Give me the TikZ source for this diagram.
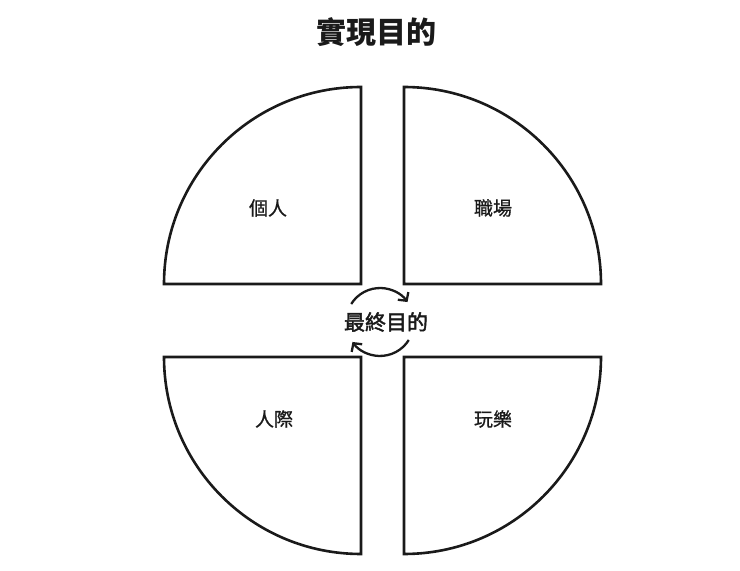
\documentclass[tikz,border=0pt]{standalone}
\usepackage{fontspec}
\newfontfamily\cjk{Noto Sans CJK TC}
\newfontfamily\cjkm[FakeBold=2]{Noto Sans CJK TC}
\newfontfamily\cjkl[FakeBold=0.8]{Noto Sans CJK TC}
\usetikzlibrary{arrows.meta}
\definecolor{ink}{HTML}{1A1A1A}
\tikzset{
  quad/.style={draw=ink, line width=2.6pt, line join=miter, fill=white},
  lab/.style={font=\cjkl\fontsize{19}{22}\selectfont, text=ink, inner sep=0pt},
  cyc/.style={draw=ink, line width=2.3pt, -{Straight Barb[length=6pt,width=13pt]}}
}
\begin{document}
\begin{tikzpicture}[x=1pt,y=1pt]
\useasboundingbox[fill=white] (0,0) rectangle (740,571);
% quadrants
\draw[quad] (361,287) -- (164,287) arc[start angle=180,end angle=90,radius=197] -- cycle;
\draw[quad] (404,287) -- (404,484) arc[start angle=90,end angle=0,radius=197] -- cycle;
\draw[quad] (361,214) -- (164,214) arc[start angle=180,end angle=270,radius=197] -- cycle;
\draw[quad] (404,214) -- (601,214) arc[start angle=0,end angle=-90,radius=197] -- cycle;
% labels
\node[font=\cjk\bfseries\fontsize{30}{34}\selectfont, text=ink, inner sep=0pt] (title) at (376,539) {實現目的};
\node[lab] (personal) at (268,363) {個人};
\node[lab] (work) at (493,363) {職場};
\node[lab] (social) at (274,152) {人際};
\node[lab] (play) at (493,152) {玩樂};
\node[font=\cjkm\fontsize{21}{24}\selectfont, text=ink, inner sep=0pt] (goal) at (386,249) {最終目的};
% cycle arrows
\draw[cyc] (351.2,267.0) arc[start angle=148,end angle=36,radius=34];
\draw[cyc] (408.8,231.0) arc[start angle=-32,end angle=-144,radius=34];
\end{tikzpicture}
\end{document}
